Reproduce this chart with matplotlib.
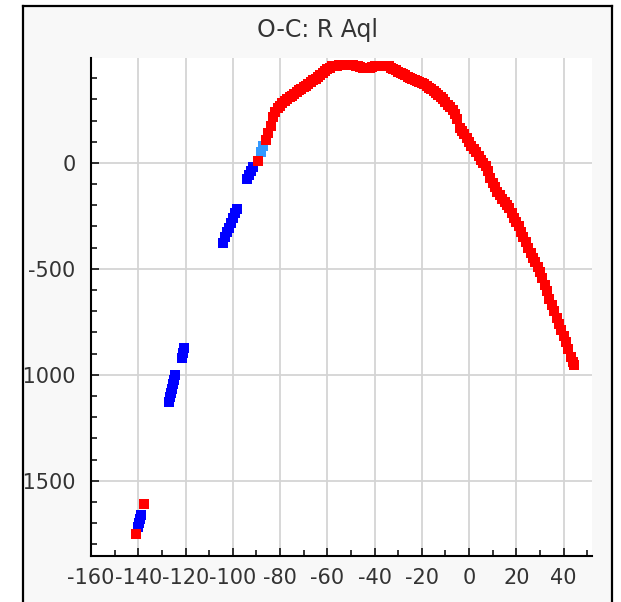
"""O-C diagram for R Aql, redrawn from a screenshot."""
import matplotlib
matplotlib.use("Agg")
import matplotlib.pyplot as plt
from matplotlib.lines import Line2D
from matplotlib.patches import Rectangle
from matplotlib.ticker import MultipleLocator

plt.rcParams["axes.unicode_minus"] = False

# blue points (older observations)
blue_x = [-140.0, -139.6, -139.2, -138.8,
          -127.0, -126.5, -126.0, -125.6, -125.2, -124.8, -124.3, -121.6, -121.2, -120.7,
          -104.0, -103.2, -102.4, -101.6, -100.8, -100.0, -99.2, -98.4,
          -94.0, -93.3, -92.5, -91.6]
blue_y = [-1720, -1700, -1680, -1660,
          -1127, -1105, -1085, -1065, -1045, -1025, -1003, -919, -895, -872,
          -378, -352, -328, -305, -282, -258, -238, -218,
          -76, -56, -38, -20]

# light blue points
lblue_x = [-88.2, -87.2]
lblue_y = [50, 80]

# red points
red_x = [-141.0, -137.4, -89.5,
         -86, -85, -84, -83, -82, -81, -80, -79, -78, -77, -76, -75, -74, -73, -72,
         -71, -70, -69, -68, -67, -66, -65, -64, -63, -62, -61, -60, -59, -58, -57,
         -56, -55, -54, -53, -52, -51, -50, -49, -48, -47, -46, -45, -44, -43, -42,
         -41, -40, -39, -38, -37, -36, -35, -34, -33, -32, -31, -30, -29, -28, -27,
         -26, -25, -24, -23, -22, -21, -20, -19, -18, -17, -16, -15, -14, -13, -12,
         -11, -10, -9, -8, -7, -6, -5, -4, -3, -2, -1, 0, 1, 2, 3, 4, 5, 6, 7, 8, 9,
         10, 11, 12, 13, 14, 15, 16, 17, 18, 19, 20, 21, 22, 23, 24, 25, 26, 27, 28,
         29, 30, 31, 32, 33, 34, 35, 36, 37, 38, 39, 40, 41, 42, 43, 44, 44.5]
red_y = [-1750, -1608, 11,
         110, 140, 175, 215, 240, 258, 270, 282, 292, 300, 310, 318, 326, 335, 342,
         350, 358, 365, 372, 380, 390, 398, 405, 413, 422, 432, 442, 450, 455, 458,
         459, 460, 460, 461, 460, 461, 460, 460, 458, 455, 452, 450, 448, 447, 450,
         453, 455, 456, 456, 457, 456, 455, 455, 450, 445, 438, 430, 425, 420, 413,
         407, 400, 395, 390, 386, 383, 378, 370, 362, 355, 348, 340, 332, 322, 312,
         300, 288, 275, 262, 248, 230, 205, 165, 150, 135, 118, 100, 82, 66, 50, 32,
         15, 0, -15, -40, -70,
         -95, -115, -135, -152, -170, -185, -200, -215, -235, -258, -280, -300, -325,
         -350, -375, -400, -425, -450, -470,
         -492, -515, -545, -575, -605, -640, -670, -700, -730, -760, -790, -815, -845,
         -880, -915, -940, -952]

W, H = 621, 602
fig = plt.figure(figsize=(W / 100, H / 100), dpi=100, facecolor="#f8f8f8")

ax = fig.add_axes([91 / W, 1 - 556 / H, (592 - 91) / W, (556 - 58) / H])
ax.set_facecolor("white")

ms = 7.5
ax.plot(blue_x, blue_y, "s", color="#0000ff", markersize=ms, markeredgewidth=0, zorder=3)
ax.plot(lblue_x, lblue_y, "s", color="#3399ff", markersize=ms, markeredgewidth=0, zorder=3)
ax.plot(red_x, red_y, "s", color="#ff0000", markersize=ms, markeredgewidth=0, zorder=3)

ax.set_xlim(-160, 52)
ax.set_ylim(-1855, 495)
ax.xaxis.set_major_locator(MultipleLocator(20))
ax.xaxis.set_minor_locator(MultipleLocator(10))
ax.yaxis.set_major_locator(MultipleLocator(500))
ax.yaxis.set_minor_locator(MultipleLocator(100))

ax.grid(True, which="major", color="#d4d4d4", lw=1.3, zorder=0)
ax.set_axisbelow(True)

for s in ("top", "right"):
    ax.spines[s].set_visible(False)
for s in ("left", "bottom"):
    ax.spines[s].set_linewidth(1.5)

ax.tick_params(which="both", direction="in", width=1.1, colors="black",
               labelcolor="#333333", labelsize=15)
ax.tick_params(which="major", length=6)
ax.tick_params(which="minor", length=4.5)
ax.tick_params(axis="x", pad=9)
ax.tick_params(axis="y", pad=11)

fig.text(317 / W, 1 - 30 / H, "O-C: R Aql", ha="center", va="center",
         fontsize=17, color="#333333")

# white margin outside the panel, then the panel frame on top
fl, fr, ft = 22.5 / W, 612 / W, 1 - 6 / H
for xy, w, h in [((0, 0), fl, 1), ((fr, 0), 1 - fr, 1), ((0, ft), 1, 1 - ft)]:
    fig.add_artist(Rectangle(xy, w, h, transform=fig.transFigure,
                             facecolor="white", edgecolor="none", zorder=10))
fig.add_artist(Line2D([fl, fl], [0, ft], color="black", lw=1.6, zorder=11))
fig.add_artist(Line2D([fl, fr], [ft, ft], color="black", lw=1.6, zorder=11))
fig.add_artist(Line2D([fr, fr], [0, ft], color="black", lw=1.6, zorder=11))

fig.savefig("out.png", dpi=100, facecolor=fig.get_facecolor())
